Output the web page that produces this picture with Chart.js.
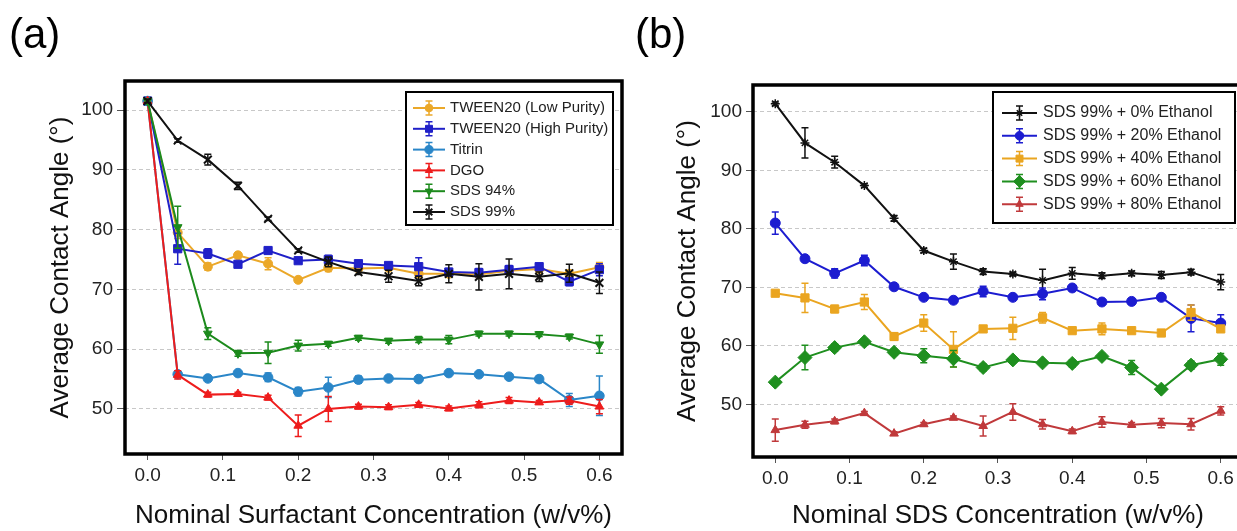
<!DOCTYPE html>
<html>
<head>
<meta charset="utf-8">
<script src="https://cdn.jsdelivr.net/npm/chart.js@4.4.1/dist/chart.umd.min.js"></script>
<style>
    html, body { margin: 0; padding: 0; background: #fff; overflow: hidden; width: 1237px; height: 531px; }
    .panel { position: absolute; top: 0; }
    .tag { position: absolute; font-family: "Liberation Sans", Arial, sans-serif; font-size: 42px; line-height: 42px; color: #000; }
</style>
</head>
<body>
<div class="panel" style="left:0px;"><canvas id="chartA" width="640" height="531"></canvas></div>
<div class="panel" style="left:620px;"><canvas id="chartB" width="640" height="531"></canvas></div>
<div class="tag" style="left:9px; top:13px;">(a)</div>
<div class="tag" style="left:635px; top:13px;">(b)</div>
<script>
//Concentrações (w/v%)
const concA = [0, 0.04, 0.08, 0.12, 0.16, 0.2, 0.24, 0.28, 0.32, 0.36, 0.4, 0.44, 0.48, 0.52, 0.56, 0.6];
const concB = [0, 0.04, 0.08, 0.12, 0.16, 0.2, 0.24, 0.28, 0.32, 0.36, 0.4, 0.44, 0.48, 0.52, 0.56, 0.6];
const xTicks = [0, 0.1, 0.2, 0.3, 0.4, 0.5, 0.6];
const yTicks = [50, 60, 70, 80, 90, 100];

//Painel (a) - ângulos médios e desvios
const tweenLow     = [101.5, 79.5, 73.8, 75.7, 74.3, 71.6, 73.6, 73.5, 73.6, 72.6, 72.6, 72.5, 73.1, 73.4, 72.6, 73.7];
const tweenLowErr  = [0.3, 1.0, 0.6, 0.4, 1.0, 0.4, 0.6, 0.4, 0.4, 0.5, 0.5, 0.5, 0.5, 0.5, 0.6, 0.8];
const tweenHigh    = [101.5, 76.8, 76.0, 74.2, 76.5, 74.8, 75.0, 74.3, 74.0, 73.8, 72.9, 72.8, 73.3, 73.8, 71.3, 73.3];
const tweenHighErr = [0.3, 2.6, 0.8, 0.4, 0.5, 0.4, 0.7, 0.4, 0.4, 1.5, 0.6, 0.7, 0.7, 0.4, 0.7, 1.0];
const titrin       = [101.5, 55.8, 55.1, 56.0, 55.3, 52.9, 53.6, 54.9, 55.1, 55.0, 56.0, 55.8, 55.4, 55.0, 51.5, 52.2];
const titrinErr    = [0.3, 0.5, 0.3, 0.3, 0.7, 0.7, 1.7, 0.6, 0.3, 0.3, 0.3, 0.3, 0.3, 0.5, 1.1, 3.3];
const dgo          = [101.5, 55.7, 52.4, 52.5, 51.9, 47.2, 50.0, 50.4, 50.3, 50.7, 50.1, 50.7, 51.4, 51.1, 51.4, 50.4];
const dgoErr       = [0.3, 0.7, 0.4, 0.3, 0.4, 1.8, 2.1, 0.4, 0.4, 0.4, 0.4, 0.5, 0.5, 0.3, 0.6, 1.2];
const sds94        = [101.5, 80.4, 62.6, 59.3, 59.4, 60.6, 60.9, 61.9, 61.4, 61.6, 61.6, 62.6, 62.6, 62.5, 62.1, 60.8];
const sds94Err     = [0.3, 3.5, 1.0, 0.5, 1.8, 0.9, 0.4, 0.4, 0.4, 0.5, 0.7, 0.4, 0.4, 0.4, 0.4, 1.5];
const sds99        = [101.5, 94.9, 91.7, 87.3, 81.8, 76.5, 74.6, 72.9, 72.2, 71.4, 72.6, 72.1, 72.6, 72.1, 72.7, 71.1];
const sds99Err     = [0.3, 0.3, 0.9, 0.6, 0.3, 0.3, 0.8, 0.4, 1.0, 0.8, 1.5, 2.2, 2.5, 0.8, 1.5, 1.8];

//Painel (b) - SDS 99% com etanol
const eth0     = [101.4, 94.7, 91.4, 87.4, 81.8, 76.3, 74.4, 72.7, 72.3, 71.2, 72.4, 72.0, 72.4, 72.1, 72.6, 70.9];
const eth0Err  = [0.3, 2.6, 1.0, 0.3, 0.5, 0.4, 1.3, 0.5, 0.3, 1.9, 1.0, 0.5, 0.4, 0.6, 0.5, 1.3];
const eth20    = [81.0, 74.9, 72.4, 74.6, 70.1, 68.3, 67.8, 69.3, 68.3, 68.9, 69.9, 67.5, 67.6, 68.3, 64.7, 63.9];
const eth20Err = [1.9, 0.3, 0.8, 0.9, 0.3, 0.3, 0.5, 0.9, 0.5, 1.0, 0.5, 0.3, 0.3, 0.3, 2.3, 1.4];
const eth40    = [69.0, 68.2, 66.3, 67.5, 61.6, 63.9, 59.4, 62.9, 63.0, 64.8, 62.6, 62.9, 62.6, 62.2, 65.7, 62.9];
const eth40Err = [0.4, 2.5, 0.6, 1.3, 0.6, 1.4, 3.0, 0.4, 1.9, 0.9, 0.4, 1.0, 0.4, 0.5, 1.3, 0.5];
const eth60    = [53.8, 58.0, 59.7, 60.7, 58.9, 58.3, 57.8, 56.3, 57.6, 57.1, 57.0, 58.2, 56.3, 52.6, 56.7, 57.7];
const eth60Err = [0.3, 2.1, 0.6, 0.5, 0.5, 1.2, 1.4, 0.6, 0.5, 0.4, 0.6, 0.5, 1.2, 0.5, 0.7, 1.0];
const eth80    = [45.6, 46.5, 47.1, 48.5, 45.0, 46.6, 47.7, 46.3, 48.7, 46.6, 45.4, 47.0, 46.5, 46.8, 46.6, 48.9];
const eth80Err = [1.9, 0.6, 0.4, 0.3, 0.3, 0.3, 0.3, 1.7, 1.4, 0.8, 0.4, 0.9, 0.4, 0.8, 1.0, 0.7];

const FONT = '"Liberation Sans", Arial, sans-serif';

//Barras de erro (desenhadas antes de cada série)
const errorBars = {
    id: 'errorBars',
    beforeDatasetDraw(chart, args) {
        const ds = chart.data.datasets[args.index];
        if (!ds.errors) return;
        const ctx = chart.ctx;
        const yScale = chart.scales.y;
        ctx.save();
        ctx.strokeStyle = ds.borderColor;
        ctx.lineWidth = 1.5;
        args.meta.data.forEach((pt, j) => {
            const v = ds.data[j].y, e = ds.errors[j];
            const yt = yScale.getPixelForValue(v + e);
            const yb = yScale.getPixelForValue(v - e);
            ctx.beginPath();
            ctx.moveTo(pt.x, yt); ctx.lineTo(pt.x, yb);
            ctx.moveTo(pt.x - 3.5, yt); ctx.lineTo(pt.x + 3.5, yt);
            ctx.moveTo(pt.x - 3.5, yb); ctx.lineTo(pt.x + 3.5, yb);
            ctx.stroke();
        });
        ctx.restore();
    }
};

//Moldura preta em volta da área do gráfico
const frame = {
    id: 'frame',
    afterDatasetsDraw(chart) {
        const {left, top, right, bottom} = chart.chartArea;
        const ctx = chart.ctx;
        ctx.save();
        ctx.lineWidth = 3.5;
        ctx.strokeStyle = '#000';
        ctx.strokeRect(left, top, right - left, bottom - top);
        ctx.restore();
    }
};

//Legenda com caixa, no estilo do matplotlib
const boxLegend = {
    id: 'boxLegend',
    afterDraw(chart, args, o) {
        const ctx = chart.ctx;
        ctx.save();
        ctx.fillStyle = '#fff';
        ctx.fillRect(o.x, o.y, o.w, o.h);
        ctx.lineWidth = 2;
        ctx.strokeStyle = '#000';
        ctx.strokeRect(o.x, o.y, o.w, o.h);
        chart.data.datasets.forEach((ds, i) => {
            const y = o.y + o.first + i * o.rowH;
            const x0 = o.x + o.lineX, x1 = x0 + o.lineLen, xm = (x0 + x1) / 2;
            ctx.strokeStyle = ds.borderColor;
            ctx.lineWidth = ds.borderWidth;
            ctx.beginPath(); ctx.moveTo(x0, y); ctx.lineTo(x1, y); ctx.stroke();
            ctx.lineWidth = 1.5;
            ctx.beginPath();
            ctx.moveTo(xm, y - 7); ctx.lineTo(xm, y + 7);
            ctx.moveTo(xm - 3.5, y - 7); ctx.lineTo(xm + 3.5, y - 7);
            ctx.moveTo(xm - 3.5, y + 7); ctx.lineTo(xm + 3.5, y + 7);
            ctx.stroke();
            ctx.fillStyle = ds.pointBackgroundColor;
            ctx.lineWidth = ds.pointBorderWidth;
            Chart.helpers.drawPoint(ctx, {
                pointStyle: ds.pointStyle,
                rotation: ds.pointRotation || 0,
                radius: ds.pointRadius * 0.85,
                borderWidth: ds.pointBorderWidth
            }, xm, y);
            ctx.fillStyle = '#222';
            ctx.font = o.fontSize + 'px ' + FONT;
            ctx.textBaseline = 'middle';
            ctx.textAlign = 'left';
            ctx.fillText(ds.label, o.x + o.textX, y);
        });
        ctx.restore();
    }
};

function serie(label, xs, ys, errs, color, style, radius, order, extra) {
    return Object.assign({
        label: label,
        data: xs.map((x, i) => ({x: x, y: ys[i]})),
        errors: errs,
        borderColor: color,
        backgroundColor: color,
        pointBackgroundColor: color,
        pointBorderColor: color,
        borderWidth: 2,
        pointStyle: style,
        pointRadius: radius,
        pointHoverRadius: radius,
        pointBorderWidth: 1,
        tension: 0,
        order: order
    }, extra || {});
}

function escalas(xTitle, yMin, yMax, yWidth, xHeight, yTitlePad, yTickLen) {
    return {
        x: {
            type: 'linear',
            min: -0.03,
            max: 0.63,
            afterFit: s => { s.height = xHeight; },
            afterBuildTicks: s => { s.ticks = xTicks.map(v => ({value: v})); },
            ticks: {
                color: '#222',
                padding: 4,
                maxRotation: 0,
                font: {family: FONT, size: 19},
                callback: v => Number(v).toFixed(1)
            },
            grid: { drawOnChartArea: false, tickLength: 6, tickColor: '#555', tickWidth: 1 },
            border: { display: false },
            title: {
                display: true,
                text: xTitle,
                color: '#111',
                font: {family: FONT, size: 26, lineHeight: 1.2},
                padding: {top: 0, bottom: 0}
            }
        },
        y: {
            min: yMin,
            max: yMax,
            afterFit: s => { s.width = yWidth; },
            afterBuildTicks: s => { s.ticks = yTicks.map(v => ({value: v})); },
            ticks: {
                color: '#222',
                padding: 4,
                font: {family: FONT, size: 19}
            },
            grid: { color: '#c8c8c8', lineWidth: 1, tickLength: yTickLen, tickColor: '#555', tickWidth: 1 },
            border: { display: false, dash: [4, 3] },
            title: {
                display: true,
                text: 'Average Contact Angle (°)',
                color: '#111',
                font: {family: FONT, size: 26, lineHeight: 1.2},
                padding: {top: yTitlePad, bottom: 0}
            }
        }
    };
}

//Gráfico (a)
const ctxA = document.getElementById('chartA').getContext('2d');
const chartA = new Chart(ctxA, {
    type: 'line',
    data: {
        datasets: [
            serie('TWEEN20 (Low Purity)', concA, tweenLow, tweenLowErr, '#eba829', 'circle', 4.5, 6),
            serie('TWEEN20 (High Purity)', concA, tweenHigh, tweenHighErr, '#2020c8', 'rect', 5.8, 5),
            serie('Titrin', concA, titrin, titrinErr, '#2a86c8', 'circle', 4.8, 4),
            serie('DGO', concA, dgo, dgoErr, '#ee1c1c', 'triangle', 5, 3),
            serie('SDS 94%', concA, sds94, sds94Err, '#1c8a1c', 'triangle', 5, 2, {pointRotation: 180}),
            serie('SDS 99%', concA, sds99, sds99Err, '#111111', 'crossRot', 5.5, 1, {pointBorderWidth: 2})
        ]
    },
    options: {
        responsive: false,
        animation: false,
        layout: { padding: {left: 40, top: 81, right: 18, bottom: 0} },
        plugins: {
            legend: { display: false },
            tooltip: { enabled: false },
            boxLegend: { x: 406, y: 92, w: 207, h: 133, first: 16, rowH: 20.8, lineX: 7, lineLen: 32, textX: 44, fontSize: 15 }
        },
        scales: escalas('Nominal Surfactant Concentration (w/v%)', 42.47, 104.85, 85, 77, 5, 8)
    },
    plugins: [errorBars, frame, boxLegend]
});

//Gráfico (b)
const ctxB = document.getElementById('chartB').getContext('2d');
const chartB = new Chart(ctxB, {
    type: 'line',
    data: {
        datasets: [
            serie('SDS 99% + 0% Ethanol', concB, eth0, eth0Err, '#111111', 'star', 4.5, 5, {pointBorderWidth: 1.5}),
            serie('SDS 99% + 20% Ethanol', concB, eth20, eth20Err, '#1c1cd0', 'circle', 5, 4),
            serie('SDS 99% + 40% Ethanol', concB, eth40, eth40Err, '#eaa520', 'rect', 5.8, 3),
            serie('SDS 99% + 60% Ethanol', concB, eth60, eth60Err, '#1f8f1f', 'rectRot', 7, 2),
            serie('SDS 99% + 80% Ethanol', concB, eth80, eth80Err, '#c0393b', 'triangle', 5, 1)
        ]
    },
    options: {
        responsive: false,
        animation: false,
        layout: { padding: {left: 40, top: 85, right: 17, bottom: 0} },
        plugins: {
            legend: { display: false },
            tooltip: { enabled: false },
            boxLegend: { x: 373, y: 92, w: 242, h: 131, first: 21, rowH: 22.8, lineX: 9, lineLen: 35, textX: 50, fontSize: 16 }
        },
        scales: escalas('Nominal SDS Concentration (w/v%)', 41.0, 104.6, 93, 74, 12, 7)
    },
    plugins: [errorBars, frame, boxLegend]
});
</script>
</body>
</html>
